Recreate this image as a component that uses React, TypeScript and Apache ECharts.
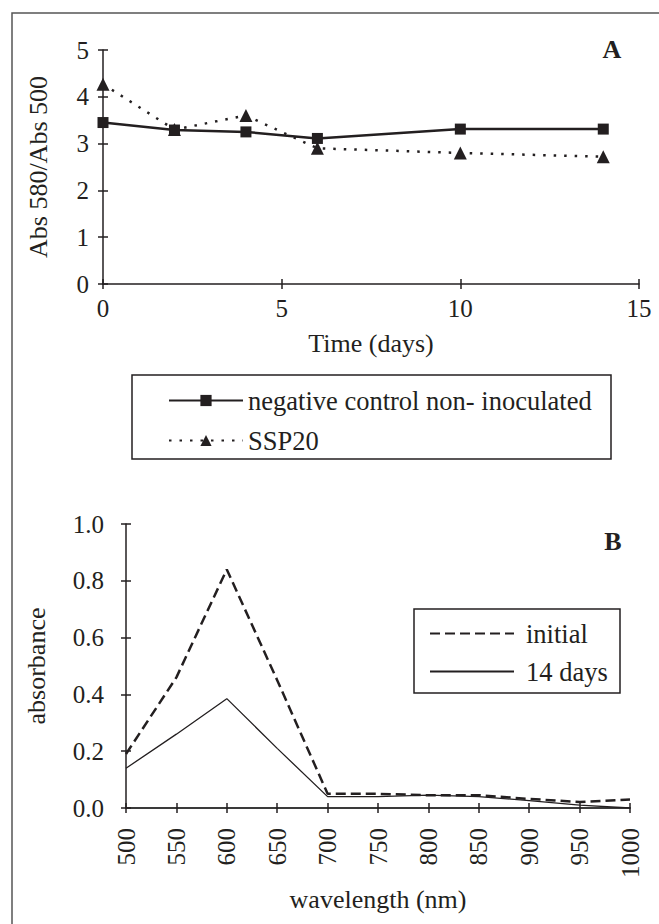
import React, { useEffect, useRef } from "react";
import * as echarts from "echarts";

const days = [0, 2, 4, 6, 10, 14];
const negControl = [3.45, 3.29, 3.25, 3.11, 3.31, 3.31];
const ssp20 = [4.27, 3.3, 3.6, 2.9, 2.8, 2.72];

const wavelengths = [500, 550, 600, 650, 700, 750, 800, 850, 900, 950, 1000];
const initialAbs = [0.19, 0.46, 0.84, 0.45, 0.05, 0.05, 0.045, 0.045, 0.032, 0.021, 0.03];
const days14Abs = [0.14, 0.26, 0.385, 0.21, 0.04, 0.04, 0.045, 0.04, 0.026, 0.01, 0.0];

const NEG = "negative control non- inoculated";
const SSP = "SSP20";
const INI = "initial";
const D14 = "14 days";

const INK = "#231f20";
const FONT = "Liberation Serif";

export default function App() {
  const ref = useRef<HTMLDivElement>(null);
  useEffect(() => {
    if (!ref.current) return;
    const chart = echarts.init(ref.current, null, { renderer: "svg" });
    const axisLine = { show: true, onZero: false, lineStyle: { color: INK, width: 1.5 } };
    const tickOut = { show: true, length: 5, inside: false, lineStyle: { color: INK, width: 1.5 } };
    const tickIn = { show: true, length: 5, inside: true, lineStyle: { color: INK, width: 1.5 } };
    const label = (extra: any) => ({ color: INK, fontFamily: FONT, fontSize: 25, ...extra });
    const nameStyle = { color: INK, fontFamily: FONT, fontSize: 26 };
    const hiddenAxis = (base: any) => ({
      ...base,
      axisLine: { show: false, onZero: false },
      axisTick: tickIn,
      axisLabel: { show: false },
      splitLine: { show: false },
      name: "",
    });

    const xTop = {
      type: "value", gridIndex: 0, position: "bottom", min: 0, max: 15, interval: 5,
      axisLine, axisTick: tickOut, splitLine: { show: false },
      axisLabel: label({ margin: 12 }),
      name: "Time (days)", nameLocation: "middle", nameGap: 46, nameTextStyle: nameStyle,
    };
    const yTop = {
      type: "value", gridIndex: 0, position: "left", min: 0, max: 5, interval: 1,
      axisLine, axisTick: tickOut, splitLine: { show: false },
      axisLabel: label({ margin: 14 }),
      name: "Abs 580/Abs 500", nameLocation: "middle", nameGap: 52, nameTextStyle: nameStyle,
    };
    const xBot = {
      type: "value", gridIndex: 1, position: "bottom", min: 500, max: 1000, interval: 50,
      axisLine: { ...axisLine, lineStyle: { color: "#3a3a3a", width: 2 } }, axisTick: tickOut, splitLine: { show: false },
      axisLabel: label({ margin: 20, rotate: 90, formatter: (v: number) => String(v) }),
      name: "wavelength (nm)", nameLocation: "middle", nameGap: 78, nameTextStyle: nameStyle,
    };
    const yBot = {
      type: "value", gridIndex: 1, position: "left", min: 0, max: 1, interval: 0.2,
      axisLine, axisTick: tickOut, splitLine: { show: false },
      axisLabel: label({ margin: 22, formatter: (v: number) => v.toFixed(1) }),
      name: "absorbance", nameLocation: "middle", nameGap: 77, nameTextStyle: nameStyle,
    };

    chart.setOption({
      animation: false,
      backgroundColor: "#ffffff",
      textStyle: { fontFamily: FONT, color: INK },
      grid: [
        { left: 103, top: 50, width: 536, height: 234 },
        { left: 126, top: 524, width: 504, height: 284 },
      ],
      xAxis: [xTop, hiddenAxis(xTop), xBot, hiddenAxis(xBot)],
      yAxis: [yTop, hiddenAxis(yTop), yBot, hiddenAxis(yBot)],
      legend: [
        {
          data: [NEG, SSP], orient: "vertical", left: 168, top: 387,
          itemWidth: 74, itemHeight: 14, itemGap: 13, padding: 0, selectedMode: false,
          textStyle: { color: INK, fontFamily: FONT, fontSize: 26.5 },
        },
        {
          data: [INI, D14], orient: "vertical", left: 429, top: 620,
          itemWidth: 84, itemHeight: 14, itemGap: 11, padding: 0, selectedMode: false,
          itemStyle: { opacity: 0 },
          textStyle: { color: INK, fontFamily: FONT, fontSize: 26.5, padding: [0, 0, 0, 7] },
        },
      ],
      series: [
        {
          name: SSP, type: "line", xAxisIndex: 0, yAxisIndex: 0,
          data: days.map((d, i) => [d, ssp20[i]]),
          symbol: "triangle", symbolSize: 13,
          lineStyle: { color: INK, width: 2.5, type: [2.5, 8] },
          itemStyle: { color: INK },
        },
        {
          name: NEG, type: "line", xAxisIndex: 0, yAxisIndex: 0,
          data: days.map((d, i) => [d, negControl[i]]),
          symbol: "rect", symbolSize: 11,
          lineStyle: { color: INK, width: 2.5 },
          itemStyle: { color: INK },
        },
        {
          name: INI, type: "line", xAxisIndex: 2, yAxisIndex: 2,
          data: wavelengths.map((w, i) => [w, initialAbs[i]]),
          symbol: "none",
          lineStyle: { color: INK, width: 2.5, type: [10, 5] },
          itemStyle: { color: INK },
        },
        {
          name: D14, type: "line", xAxisIndex: 2, yAxisIndex: 2,
          data: wavelengths.map((w, i) => [w, days14Abs[i]]),
          symbol: "none",
          lineStyle: { color: INK, width: 1.3 },
          itemStyle: { color: INK },
        },
      ],
      graphic: [
        { type: "rect", shape: { x: 12, y: 13, width: 800, height: 1000 }, style: { fill: "none", stroke: "#555555", lineWidth: 1.5 }, silent: true },
        { type: "rect", shape: { x: 132, y: 375, width: 479, height: 84 }, style: { fill: "none", stroke: INK, lineWidth: 1.5 }, silent: true },
        { type: "rect", shape: { x: 414, y: 609, width: 206, height: 84 }, style: { fill: "none", stroke: INK, lineWidth: 1.5 }, silent: true },
        { type: "text", x: 612, y: 49, style: { text: "A", fill: INK, fontFamily: FONT, fontSize: 26, fontWeight: "bold", align: "center", verticalAlign: "middle" } },
        { type: "text", x: 613, y: 541, style: { text: "B", fill: INK, fontFamily: FONT, fontSize: 26, fontWeight: "bold", align: "center", verticalAlign: "middle" } },
      ],
    });
    return () => chart.dispose();
  }, []);
  return (
    <div
      ref={ref}
      style={{ position: "fixed", left: 0, top: 0, width: 659, height: 924, background: "#ffffff" }}
    />
  );
}
